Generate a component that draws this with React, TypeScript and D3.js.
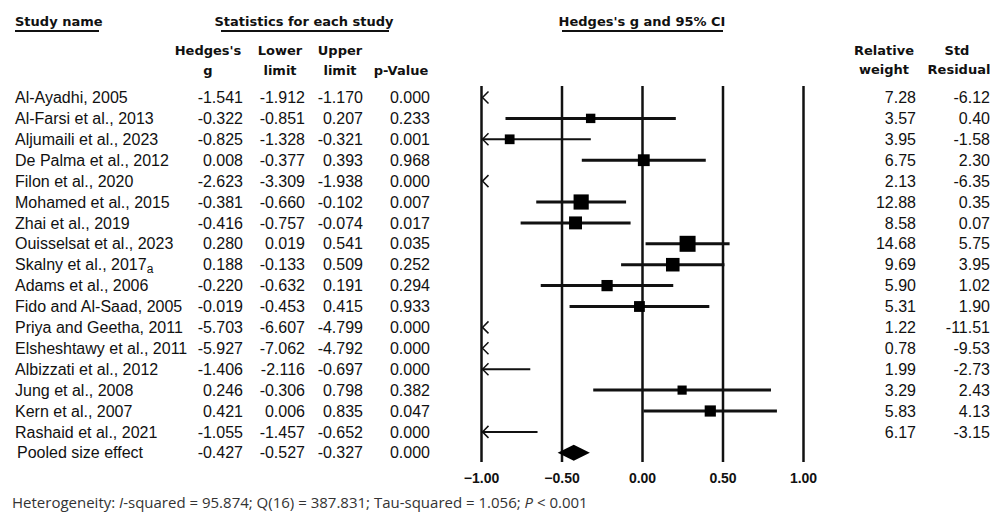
import React from "react";
import * as d3 from "d3";

const studies = [
  "Al-Ayadhi, 2005",
  "Al-Farsi et al., 2013",
  "Aljumaili et al., 2023",
  "De Palma et al., 2012",
  "Filon et al., 2020",
  "Mohamed et al., 2015",
  "Zhai et al., 2019",
  "Ouisselsat et al., 2023",
  "Skalny et al., 2017a",
  "Adams et al., 2006",
  "Fido and Al-Saad, 2005",
  "Priya and Geetha, 2011",
  "Elsheshtawy et al., 2011",
  "Albizzati et al., 2012",
  "Jung et al., 2008",
  "Kern et al., 2007",
  "Rashaid et al., 2021",
];
const hedgesG = [-1.541, -0.322, -0.825, 0.008, -2.623, -0.381, -0.416, 0.28, 0.188, -0.22, -0.019, -5.703, -5.927, -1.406, 0.246, 0.421, -1.055];
const lowerLimit = [-1.912, -0.851, -1.328, -0.377, -3.309, -0.66, -0.757, 0.019, -0.133, -0.632, -0.453, -6.607, -7.062, -2.116, -0.306, 0.006, -1.457];
const upperLimit = [-1.17, 0.207, -0.321, 0.393, -1.938, -0.102, -0.074, 0.541, 0.509, 0.191, 0.415, -4.799, -4.792, -0.697, 0.798, 0.835, -0.652];
const pValues = [0.0, 0.233, 0.001, 0.968, 0.0, 0.007, 0.017, 0.035, 0.252, 0.294, 0.933, 0.0, 0.0, 0.0, 0.382, 0.047, 0.0];
const relWeight = [7.28, 3.57, 3.95, 6.75, 2.13, 12.88, 8.58, 14.68, 9.69, 5.9, 5.31, 1.22, 0.78, 1.99, 3.29, 5.83, 6.17];
const stdResidual = [-6.12, 0.4, -1.58, 2.3, -6.35, 0.35, 0.07, 5.75, 3.95, 1.02, 1.9, -11.51, -9.53, -2.73, 2.43, 4.13, -3.15];

const pooledLabel = "Pooled size effect";
const pooledStats = [-0.427, -0.527, -0.327, 0.0]; // g, lower, upper, p
const axisTicks = [-1, -0.5, 0, 0.5, 1];

const W = 1002;
const H = 517;

const x = d3.scaleLinear().domain([-1, 1]).range([481.5, 803.5]);
const y = d3
  .scalePoint<number>()
  .domain(d3.range(studies.length + 1))
  .range([97.5, 452.8]);
const boxSize = d3.scaleSqrt().domain([0, d3.max(relWeight) as number]).range([3, 16]);
const tickFmt = d3.format(".2f");

const rowFont = "'Liberation Sans', Arial, sans-serif";
const headFont = "'DejaVu Sans', sans-serif";

// right edges / centres of the table columns
const colRight = [243, 305, 363, 430];
const colCentre = [208, 280, 340, 401];
const wRight = 916;
const rRight = 990;

function chevron(x0: number, yy: number) {
  return `M${x0 + 7},${yy - 6} L${x0 + 1},${yy} L${x0 + 7},${yy + 6}`;
}

function StudyName({ name, yy }: { name: string; yy: number }) {
  const m = name.match(/^(.*\d)([a-z])$/);
  return (
    <text x={15} y={yy} dy="0.35em" fontFamily={rowFont} fontSize={16} fill="#111">
      {m ? m[1] : name}
      {m && (
        <tspan fontSize={12} dy={3}>
          {m[2]}
        </tspan>
      )}
    </text>
  );
}

export default function App() {
  const minX = x.domain()[0];
  const maxX = x.domain()[1];
  const py = y(studies.length) as number;

  return (
    <svg
      width={W}
      height={H}
      style={{ position: "absolute", left: 0, top: 0, background: "#fff" }}
    >
      {/* headers */}
      <g fontFamily={headFont} fontWeight="bold" fontSize={13} fill="#111">
        <text x={15} y={26}>Study name</text>
        <line x1={15} x2={99} y1={31} y2={31} stroke="#111" strokeWidth={2} />
        <text x={304} y={26} textAnchor="middle">Statistics for each study</text>
        <line x1={221} x2={389} y1={31} y2={31} stroke="#111" strokeWidth={2} />
        <text x={642} y={26} textAnchor="middle">Hedges's g and 95% CI</text>
        <line x1={562} x2={723} y1={31} y2={31} stroke="#111" strokeWidth={2} />

        <text x={colCentre[0]} y={55} textAnchor="middle">Hedges's</text>
        <text x={colCentre[0]} y={75} textAnchor="middle">g</text>
        <text x={colCentre[1]} y={55} textAnchor="middle">Lower</text>
        <text x={colCentre[1]} y={75} textAnchor="middle">limit</text>
        <text x={colCentre[2]} y={55} textAnchor="middle">Upper</text>
        <text x={colCentre[2]} y={75} textAnchor="middle">limit</text>
        <text x={colCentre[3]} y={75} textAnchor="middle">p-Value</text>
        <text x={884} y={55} textAnchor="middle">Relative</text>
        <text x={884} y={74} textAnchor="middle">weight</text>
        <text x={957} y={55} textAnchor="middle">Std</text>
        <text x={959} y={74} textAnchor="middle">Residual</text>
      </g>

      {/* table rows */}
      {studies.map((s, i) => {
        const yy = y(i) as number;
        const vals = [hedgesG[i], lowerLimit[i], upperLimit[i], pValues[i]];
        return (
          <g key={s}>
            <StudyName name={s} yy={yy} />
            {vals.map((v, j) => (
              <text key={j} x={colRight[j]} y={yy} dy="0.35em" textAnchor="end" fontFamily={rowFont} fontSize={16} fill="#111">
                {v.toFixed(3)}
              </text>
            ))}
            <text x={wRight} y={yy} dy="0.35em" textAnchor="end" fontFamily={rowFont} fontSize={16} fill="#111">
              {relWeight[i].toFixed(2)}
            </text>
            <text x={rRight} y={yy} dy="0.35em" textAnchor="end" fontFamily={rowFont} fontSize={16} fill="#111">
              {stdResidual[i].toFixed(2)}
            </text>
          </g>
        );
      })}
      <text x={17} y={py} dy="0.35em" fontFamily={rowFont} fontSize={16} fill="#111">
        {pooledLabel}
      </text>
      {pooledStats.map((v, j) => (
        <text key={j} x={colRight[j]} y={py} dy="0.35em" textAnchor="end" fontFamily={rowFont} fontSize={16} fill="#111">
          {v.toFixed(3)}
        </text>
      ))}

      {/* vertical reference lines */}
      {axisTicks.map((t) => (
        <line key={t} x1={x(t)} x2={x(t)} y1={86} y2={462} stroke="#111" strokeWidth={2.5} />
      ))}
      {axisTicks.map((t) => (
        <text key={"l" + t} x={x(t)} y={483} textAnchor="middle" fontFamily={rowFont} fontWeight="bold" fontSize={14} fill="#111">
          {tickFmt(t)}
        </text>
      ))}

      {/* study CIs and boxes */}
      {studies.map((s, i) => {
        const yy = y(i) as number;
        const lo = lowerLimit[i];
        const hi = upperLimit[i];
        const g = hedgesG[i];
        const clipped = lo < minX;
        const size = boxSize(relWeight[i]);
        return (
          <g key={"f" + s}>
            {hi >= minX && (
              <line
                x1={x(Math.max(lo, minX))}
                x2={x(Math.min(hi, maxX))}
                y1={yy}
                y2={yy}
                stroke="#111"
                strokeWidth={clipped ? 2 : 3}
              />
            )}
            {clipped && <path d={chevron(x(minX), yy)} fill="none" stroke="#111" strokeWidth={1.5} />}
            {g >= minX && g <= maxX && (
              <rect x={x(g) - size / 2} y={yy - size / 2} width={size} height={size} fill="#000" />
            )}
          </g>
        );
      })}

      {/* pooled diamond */}
      <path
        d={`M${x(pooledStats[1])},${py} L${x(pooledStats[0])},${py - 8} L${x(pooledStats[2])},${py} L${x(pooledStats[0])},${py + 8} Z`}
        fill="#000"
      />

      {/* footer */}
      <text x={12} y={508} fontFamily="'Open Sans', sans-serif" fontSize={15} fill="#333">
        Heterogeneity: <tspan fontStyle="italic">I</tspan>-squared = 95.874; Q(16) = 387.831; Tau-squared = 1.056;{" "}
        <tspan fontStyle="italic">P</tspan> &lt; 0.001
      </text>
    </svg>
  );
}
